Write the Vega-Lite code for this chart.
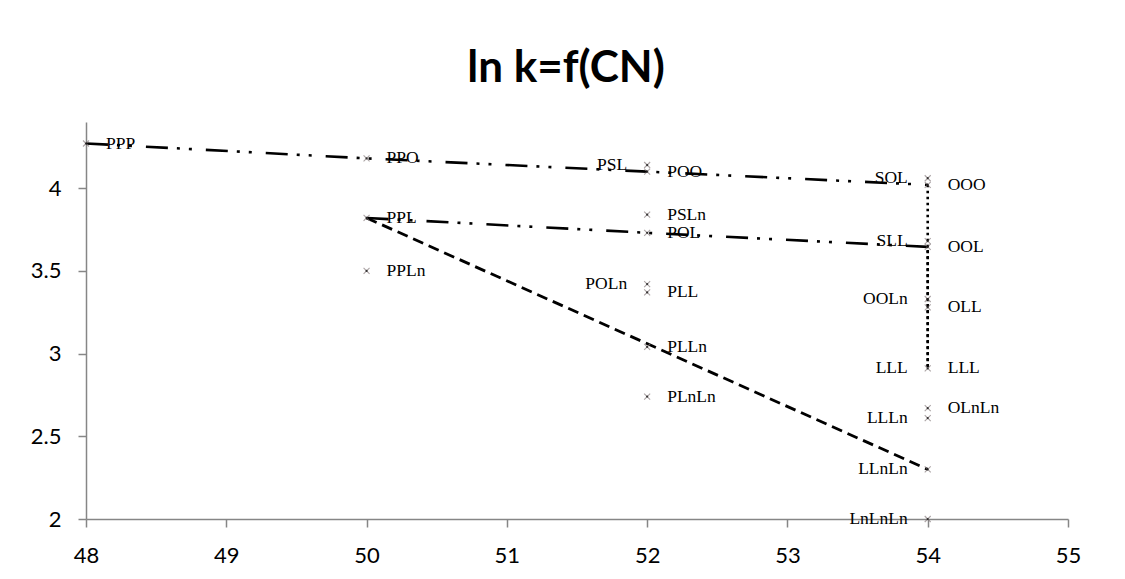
{
  "$schema": "https://vega.github.io/schema/vega-lite/v6.json",
  "width": 982,
  "height": 397,
  "autosize": {"type": "none"},
  "padding": {"left": 86, "top": 122, "right": 57, "bottom": 60},
  "background": "white",
  "config": {"view": {"stroke": null}, "font": "Lato"},
  "title": {
    "text": "ln k=f(CN)",
    "font": "Lato",
    "fontSize": 44,
    "fontWeight": "bold",
    "color": "#000000",
    "anchor": "middle",
    "dx": -11,
    "baseline": "alphabetic",
    "offset": -4
  },
  "datasets": {
    "points": [
      {"name": "PPP", "cn": 48, "lnk": 4.27},
      {"name": "PPO", "cn": 50, "lnk": 4.18},
      {"name": "PPL", "cn": 50, "lnk": 3.82},
      {"name": "PPLn", "cn": 50, "lnk": 3.5},
      {"name": "PSL", "cn": 52, "lnk": 4.14},
      {"name": "POO", "cn": 52, "lnk": 4.1},
      {"name": "PSLn", "cn": 52, "lnk": 3.84},
      {"name": "POL", "cn": 52, "lnk": 3.73},
      {"name": "POLn", "cn": 52, "lnk": 3.42},
      {"name": "PLL", "cn": 52, "lnk": 3.37},
      {"name": "PLLn", "cn": 52, "lnk": 3.04},
      {"name": "PLnLn", "cn": 52, "lnk": 2.74},
      {"name": "SOL", "cn": 54, "lnk": 4.06},
      {"name": "OOO", "cn": 54, "lnk": 4.02},
      {"name": "SLL", "cn": 54, "lnk": 3.68},
      {"name": "OOL", "cn": 54, "lnk": 3.645},
      {"name": "OOLn", "cn": 54, "lnk": 3.33},
      {"name": "OLL", "cn": 54, "lnk": 3.28},
      {"name": "LLL", "cn": 54, "lnk": 2.91},
      {"name": "OLnLn", "cn": 54, "lnk": 2.67},
      {"name": "LLLn", "cn": 54, "lnk": 2.61},
      {"name": "LLnLn", "cn": 54, "lnk": 2.3},
      {"name": "LnLnLn", "cn": 54, "lnk": 2.0}
    ],
    "lines": [
      {"series": "top", "cn": 48, "lnk": 4.27},
      {"series": "top", "cn": 50, "lnk": 4.18},
      {"series": "top", "cn": 52, "lnk": 4.1},
      {"series": "top", "cn": 54, "lnk": 4.02},
      {"series": "mid", "cn": 50, "lnk": 3.82},
      {"series": "mid", "cn": 52, "lnk": 3.73},
      {"series": "mid", "cn": 54, "lnk": 3.645},
      {"series": "dash", "cn": 50, "lnk": 3.82},
      {"series": "dash", "cn": 54, "lnk": 2.3},
      {"series": "vert", "cn": 54, "lnk": 4.02},
      {"series": "vert", "cn": 54, "lnk": 2.91},
      {"series": "vert2", "cn": 54, "lnk": 3.645},
      {"series": "vert2", "cn": 54, "lnk": 2.91}
    ]
  },
  "encoding": {
    "x": {
      "field": "cn",
      "type": "quantitative",
      "scale": {"domain": [48, 55], "nice": false, "zero": false},
      "axis": {
        "values": [48, 49, 50, 51, 52, 53, 54, 55],
        "title": null,
        "grid": false,
        "domainColor": "#868686",
        "domainWidth": 1.5,
        "tickColor": "#868686",
        "tickWidth": 1.5,
        "tickSize": 8,
        "labelFont": "Lato",
        "labelFontSize": 22,
        "labelColor": "#000000",
        "labelPadding": 18,
        "labelFlush": false,
        "labelOverlap": false
      }
    },
    "y": {
      "field": "lnk",
      "type": "quantitative",
      "scale": {"domain": [2, 4.4], "nice": false, "zero": false},
      "axis": {
        "values": [2, 2.5, 3, 3.5, 4],
        "format": "~g",
        "title": null,
        "grid": false,
        "domainColor": "#868686",
        "domainWidth": 1.5,
        "tickColor": "#868686",
        "tickWidth": 1.5,
        "tickSize": 8,
        "labelFont": "Lato",
        "labelFontSize": 22,
        "labelColor": "#000000",
        "labelPadding": 17,
        "labelFlush": false,
        "labelOverlap": false
      }
    }
  },
  "layer": [
    {
      "data": {"name": "lines"},
      "transform": [{"filter": {"field": "series", "oneOf": ["top", "mid"]}}],
      "mark": {"type": "line", "color": "#000000", "strokeWidth": 2.6, "strokeDash": [22, 9, 3, 9, 3, 14]},
      "encoding": {"detail": {"field": "series"}, "order": {"field": "lnk", "sort": "descending"}}
    },
    {
      "data": {"name": "lines"},
      "transform": [{"filter": {"field": "series", "equal": "dash"}}],
      "mark": {"type": "line", "color": "#000000", "strokeWidth": 2.8, "strokeDash": [11, 6]},
      "encoding": {"order": {"field": "lnk", "sort": "descending"}}
    },
    {
      "data": {"name": "lines"},
      "transform": [{"filter": {"field": "series", "equal": "vert"}}],
      "mark": {"type": "line", "color": "#000000", "strokeWidth": 2.6, "strokeDash": [2.5, 3.5]},
      "encoding": {"order": {"field": "lnk", "sort": "descending"}}
    },
    {
      "data": {"name": "lines"},
      "transform": [{"filter": {"field": "series", "equal": "vert2"}}],
      "mark": {"type": "line", "color": "#000000", "strokeWidth": 2.6, "strokeDash": [2.5, 3.5], "strokeDashOffset": 3},
      "encoding": {"order": {"field": "lnk", "sort": "descending"}}
    },
    {
      "data": {"name": "points"},
      "mark": {"type": "point", "shape": "M-1,-1L1,1M-1,1L1,-1", "size": 36, "filled": false, "strokeWidth": 1.1, "color": "#8a7f80"}
    },
    {
      "data": {"name": "points"},
      "mark": {"type": "point", "shape": "circle", "filled": true, "size": 5, "color": "#000000"}
    },
    {
      "data": {"name": "points"},
      "transform": [{"filter": {"field": "name", "oneOf": ["PPP", "PPO", "PPL", "PPLn", "POO", "PSLn", "POL", "PLL", "PLLn", "PLnLn", "OOO", "OOL", "OLL", "LLL", "OLnLn"]}}],
      "mark": {"type": "text", "align": "left", "baseline": "middle", "dx": 20, "font": "Liberation Serif", "fontSize": 17.5, "color": "#000000"},
      "encoding": {"text": {"field": "name"}}
    },
    {
      "data": {"name": "points"},
      "transform": [{"filter": {"field": "name", "oneOf": ["PSL", "POLn", "SOL", "SLL", "OOLn", "LLL", "LLLn", "LLnLn", "LnLnLn"]}}],
      "mark": {"type": "text", "align": "right", "baseline": "middle", "dx": -20, "font": "Liberation Serif", "fontSize": 17.5, "color": "#000000"},
      "encoding": {"text": {"field": "name"}}
    }
  ]
}
